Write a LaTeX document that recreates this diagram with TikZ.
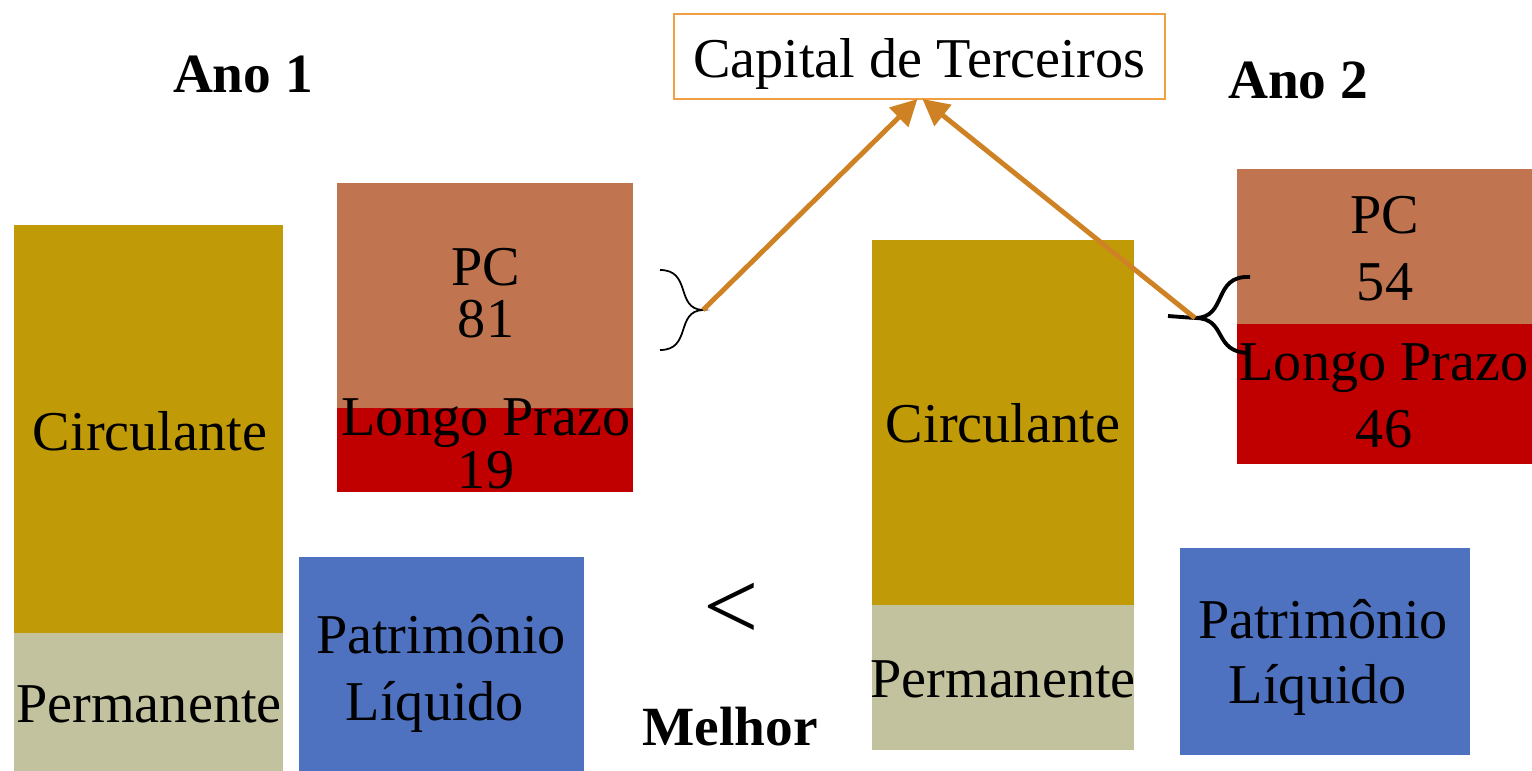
\documentclass[tikz,border=0pt]{standalone}
\usepackage{fontspec}
\setmainfont{Liberation Serif}
\usetikzlibrary{arrows.meta}
\definecolor{ouro}{RGB}{193,154,8}
\definecolor{cinza}{RGB}{194,194,158}
\definecolor{terra}{RGB}{192,117,80}
\definecolor{verm}{RGB}{192,0,0}
\definecolor{azul}{RGB}{79,114,192}
\definecolor{laranja}{RGB}{240,160,64}
\definecolor{corseta}{RGB}{207,130,36}
\begin{document}
\begin{tikzpicture}[x=0.02cm, y=-0.02cm,
    blk/.style={inner sep=0, outer sep=0, anchor=north west},
    txt/.style={font=\fontsize{32}{38}\selectfont, anchor=base, inner sep=0},
    tit/.style={font=\fontsize{31.5}{37}\selectfont\bfseries, anchor=base, inner sep=0},
    seta/.style={line width=2.8pt, -{Triangle[length=15pt,width=15pt]}, corseta}]
\useasboundingbox (0,0) rectangle (1532,771);
% ano 1
                \node[blk, fill=ouro, minimum width=5.38cm, minimum height=8.16cm](cl1) at (14,225) {};
                \node[blk, fill=cinza, minimum width=5.38cm, minimum height=2.76cm](pm1) at (14,633) {};
                \node[blk, fill=terra, minimum width=5.92cm, minimum height=4.5cm](pc1) at (337,183) {};
                \node[blk, fill=verm, minimum width=5.92cm, minimum height=1.68cm](lp1) at (337,408) {};
                \node[blk, fill=azul, minimum width=5.7cm, minimum height=4.28cm](pl1) at (299,557) {};
% ano 2
                \node[blk, fill=ouro, minimum width=5.24cm, minimum height=7.3cm](cl2) at (872,240) {};
                \node[blk, fill=cinza, minimum width=5.24cm, minimum height=2.9cm](pm2) at (872,605) {};
                \node[blk, fill=terra, minimum width=5.9cm, minimum height=3.1cm](pc2) at (1237,169) {};
                \node[blk, fill=verm, minimum width=5.9cm, minimum height=2.8cm](lp2) at (1237,324) {};
                \node[blk, fill=azul, minimum width=5.8cm, minimum height=4.14cm](pl2) at (1180,548) {};
                \node[blk, draw=laranja, fill=white, line width=0.8pt, minimum width=9.82cm, minimum height=1.7cm](ct) at (674,14) {};

\node[tit](a1) at (243,92) {Ano 1};
\node[tit](a2) at (1298,98) {Ano 2};
\node[tit](mh) at (730,745) {Melhor};
\node[txt](ctt) at (919,77) {Capital de Terceiros};
\node[font=\fontsize{56}{60}\selectfont, inner sep=0](lt) at (731,611) {<};

\node[txt](cl1t) at (150,450) {Circulante};
\node[txt](pm1t) at (149,722) {Permanente};
\node[txt](pc1t) at (486,285) {PC};
\node[txt](pc1v) at (486,337) {81};
\node[txt](lp1t) at (486,435) {Longo Prazo};
\node[txt](lp1v) at (486,488) {19};
\node[txt](pl1t) at (441,653) {Patrimônio};
\node[txt](pl1v) at (435,720) {Líquido};

\node[txt](cl2t) at (1003,442) {Circulante};
\node[txt](pm2t) at (1003,697) {Permanente};
\node[txt](pc2t) at (1385,233) {PC};
\node[txt](pc2v) at (1385,300) {54};
\node[txt](lp2t) at (1384,380) {Longo Prazo};
\node[txt](lp2v) at (1384,447) {46};
\node[txt](pl2t) at (1323,638) {Patrimônio};
\node[txt](pl2v) at (1318,703) {Líquido};

% chaves
\coordinate (k1) at (703,310);
\coordinate (k2) at (1195,318);
\draw[line width=1pt] (660,270) .. controls (692,270) and (675,309) .. (k1) .. controls (675,311) and (692,350) .. (660,350);
\draw[line width=2.2pt] (1250,277) .. controls (1212,275) and (1228,318) .. (k2) -- (1168,316);
\draw[line width=2.2pt] (k2) .. controls (1228,318) and (1212,353) .. (1250,353);

\draw[seta] (k1) -- ([xshift=-0.04cm]ct.south);
\draw[seta] (k2) -- ([xshift=0.06cm]ct.south);
        \end{tikzpicture}
\end{document}
